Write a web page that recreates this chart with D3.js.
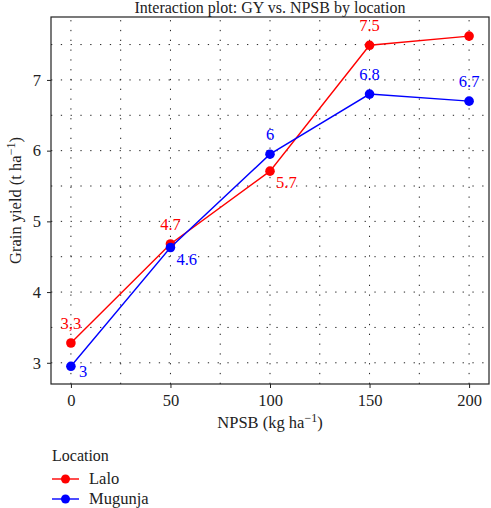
<!DOCTYPE html>
<html>
<head>
<meta charset="utf-8">
<script src="https://cdn.jsdelivr.net/npm/d3@7"></script>
<style>
  body { margin: 0; background: #fff; }
</style>
</head>
<body>
<div id="chart"></div>
<script>
const npsb = [0, 50, 100, 150, 200];
const laloYield = [3.28, 4.68, 5.71, 7.49, 7.62];
const mugunjaYield = [2.95, 4.63, 5.95, 6.80, 6.70];
// labels as printed on the original (no label for Lalo at 200)
const laloLabels = ['3,3', '4.7', '5.7', '7.5', null];
const mugunjaLabels = ['3', '4.6', '6', '6.8', '6.7'];
const xTicks = [0, 50, 100, 150, 200];
const yTicks = [3, 4, 5, 6, 7];

const W = 491, H = 508;
const margin = { top: 17, right: 2, bottom: 124, left: 51 };
const serif = '"Liberation Serif"';

const svg = d3.select('#chart').append('svg').attr('width', W).attr('height', H)
  .attr('font-family', serif);

const x = d3.scaleLinear().domain([-10, 210]).range([margin.left, W - margin.right]);
const y = d3.scaleLinear().domain([2.7, 7.89]).range([H - margin.bottom, margin.top]);

// dotted grid (major + minor)
const xGrid = d3.range(0, 201, 25);
const yGrid = d3.range(3, 7.51, 0.5);
svg.append('g').selectAll('line').data(xGrid).join('line')
  .attr('x1', d => x(d)).attr('x2', d => x(d))
  .attr('y1', y.range()[0]).attr('y2', y.range()[1])
  .attr('stroke', '#222').attr('stroke-width', 1).attr('stroke-dasharray', '1.3,8.5');
svg.append('g').selectAll('line').data(yGrid).join('line')
  .attr('y1', d => y(d)).attr('y2', d => y(d))
  .attr('x1', x.range()[0]).attr('x2', x.range()[1])
  .attr('stroke', '#222').attr('stroke-width', 1).attr('stroke-dasharray', '1.3,8.5');

// panel border
svg.append('rect')
  .attr('x', x.range()[0]).attr('y', y.range()[1])
  .attr('width', x.range()[1] - x.range()[0]).attr('height', y.range()[0] - y.range()[1])
  .attr('fill', 'none').attr('stroke', '#222').attr('stroke-width', 1.2);

// axes
const xAxis = svg.append('g').attr('transform', `translate(0,${y.range()[0]})`)
  .call(d3.axisBottom(x).tickValues(xTicks).tickFormat(d3.format('d')).tickSize(4).tickPadding(6));
const yAxis = svg.append('g').attr('transform', `translate(${x.range()[0]},0)`)
  .call(d3.axisLeft(y).tickValues(yTicks).tickFormat(d3.format('d')).tickSize(4).tickPadding(6));
[xAxis, yAxis].forEach(a => {
  a.attr('font-family', serif).attr('font-size', 16.5);
  a.select('.domain').remove();
  a.selectAll('.tick line').attr('stroke', '#222');
  a.selectAll('.tick text').attr('fill', '#222');
});

// series
const series = [
  { name: 'Lalo', color: '#ff0000', values: laloYield, labels: laloLabels,
    pos: ['above', 'above', 'below', 'above', 'above'] },
  { name: 'Mugunja', color: '#0000ff', values: mugunjaYield, labels: mugunjaLabels,
    pos: ['right', 'below', 'above', 'above', 'above'] }
];

const line = d3.line().x(d => x(d[0])).y(d => y(d[1]));

series.forEach(s => {
  const pts = npsb.map((n, i) => [n, s.values[i]]);
  svg.append('path').datum(pts).attr('d', line)
    .attr('fill', 'none').attr('stroke', s.color).attr('stroke-width', 1.4);
  svg.append('g').selectAll('circle').data(pts).join('circle')
    .attr('cx', d => x(d[0])).attr('cy', d => y(d[1])).attr('r', 4.8)
    .attr('fill', s.color);
  svg.append('g').selectAll('text').data(pts).join('text')
    .filter((d, i) => s.labels[i] != null)
    .attr('x', (d, i) => {
      const p = s.pos[i];
      if (p === 'above') return x(d[0]);
      if (p === 'right') return x(d[0]) + 8;
      return x(d[0]) + 6;
    })
    .attr('y', (d, i) => {
      const p = s.pos[i];
      if (p === 'above') return y(d[1]) - 14;
      if (p === 'right') return y(d[1]) + 11;
      return y(d[1]) + 17;
    })
    .attr('text-anchor', (d, i) => s.pos[i] === 'above' ? 'middle' : 'start')
    .attr('font-size', 16.5)
    .attr('fill', s.color)
    .text((d, i) => s.labels[i]);
});

// title
svg.append('text').attr('x', (x.range()[0] + x.range()[1]) / 2).attr('y', 13)
  .attr('text-anchor', 'middle').attr('font-size', 16).attr('fill', '#222')
  .text('Interaction plot: GY vs. NPSB by location');

// x label
const xl = svg.append('text').attr('x', (x.range()[0] + x.range()[1]) / 2).attr('y', 428)
  .attr('text-anchor', 'middle').attr('font-size', 16.5).attr('fill', '#222');
xl.append('tspan').text('NPSB (kg ha');
xl.append('tspan').attr('dy', -6).attr('font-size', 12).text('−1');
xl.append('tspan').attr('dy', 6).text(')');

// y label
const yl = svg.append('text')
  .attr('transform', `translate(21,${(y.range()[0] + y.range()[1]) / 2}) rotate(-90)`)
  .attr('text-anchor', 'middle').attr('font-size', 16.5).attr('fill', '#222');
yl.append('tspan').text('Grain yield (t ha');
yl.append('tspan').attr('dy', -6).attr('font-size', 12).text('−1');
yl.append('tspan').attr('dy', 6).text(')');

// legend
const lg = svg.append('g').attr('transform', 'translate(52,0)');
lg.append('text').attr('x', 0).attr('y', 461).attr('font-size', 16).attr('fill', '#222').text('Location');
series.forEach((s, i) => {
  const cy = 479 + i * 20;
  lg.append('line').attr('x1', 0).attr('x2', 27).attr('y1', cy).attr('y2', cy)
    .attr('stroke', s.color).attr('stroke-width', 1.4);
  lg.append('circle').attr('cx', 13.5).attr('cy', cy).attr('r', 4.5).attr('fill', s.color);
  lg.append('text').attr('x', 37).attr('y', cy + 5).attr('font-size', 16.5).attr('fill', '#222').text(s.name);
});
</script>
</body>
</html>
